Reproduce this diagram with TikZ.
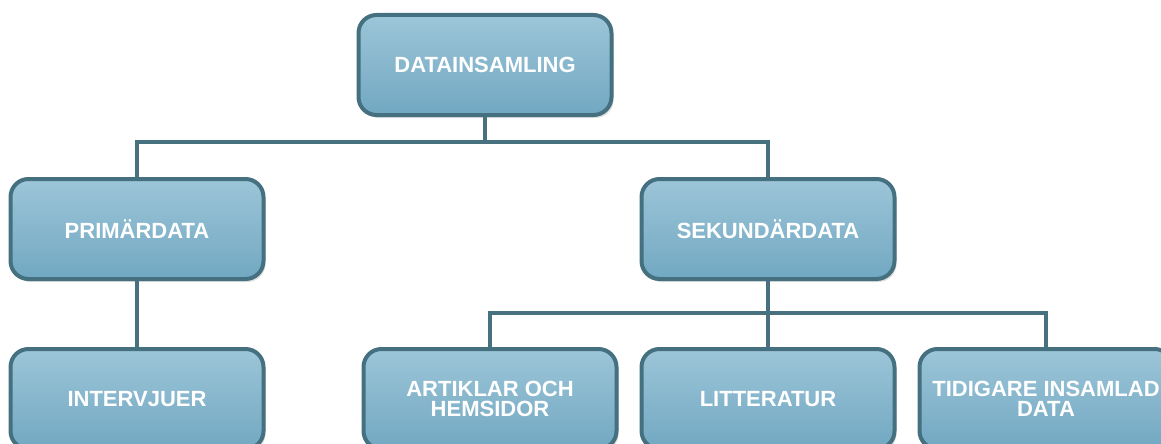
\documentclass[tikz,border=0pt]{standalone}
\usepackage{fontspec}
\setmainfont{Liberation Sans}
\usetikzlibrary{positioning, shadows}
\definecolor{boxedge}{HTML}{44707F}
\definecolor{boxtop}{HTML}{9CC5D8}
\definecolor{boxmid}{HTML}{7BB1CA}
\definecolor{boxbot}{HTML}{72A8C2}
\definecolor{linkcol}{HTML}{48717F}

\begin{document}
\begin{tikzpicture}[x=1pt, y=1pt,
        item/.style={rectangle, draw=boxedge, line width=4pt, rounded corners=18pt, align=center,
            minimum width=253pt, minimum height=100pt, top color=boxtop, middle color=boxmid, bottom color=boxbot,
            text=white, font=\fontsize{22}{20}\selectfont\bfseries,
            drop shadow={opacity=0.25, shadow xshift=2pt, shadow yshift=-3pt}},
        link/.style={draw=linkcol, line width=4pt},
        node distance=66pt and 21pt
        ]
        \useasboundingbox (0,0) rectangle (1161,-444);

        % Nodes
        \node (top) [item] at (485,-65) {DATAINSAMLING};
        \node (prim) [item] at (137,-229) {PRIMÄRDATA};
        \node (sek) [item, right=374pt of prim] {SEKUNDÄRDATA};
        \node (interv) [item, below=of prim] {INTERVJUER};
        \node (litt) [item, below=of sek] {LITTERATUR};
        \node (art) [item, left=of litt] {ARTIKLAR OCH\\HEMSIDOR};
        \node (tid) [item, right=of litt] {TIDIGARE INSAMLAD\\DATA};

        % Lines
        \draw [link] (top.south) -- ++(0,-25) -| (prim.north);
        \draw [link] (top.south) -- ++(0,-25) -| (sek.north);
        \draw [link] (prim.south) -- (interv.north);
        \draw [link] (sek.south) -- ++(0,-32) -| (art.north);
        \draw [link] (sek.south) -- (litt.north);
        \draw [link] (sek.south) -- ++(0,-32) -| (tid.north);

\end{tikzpicture}
\end{document}
